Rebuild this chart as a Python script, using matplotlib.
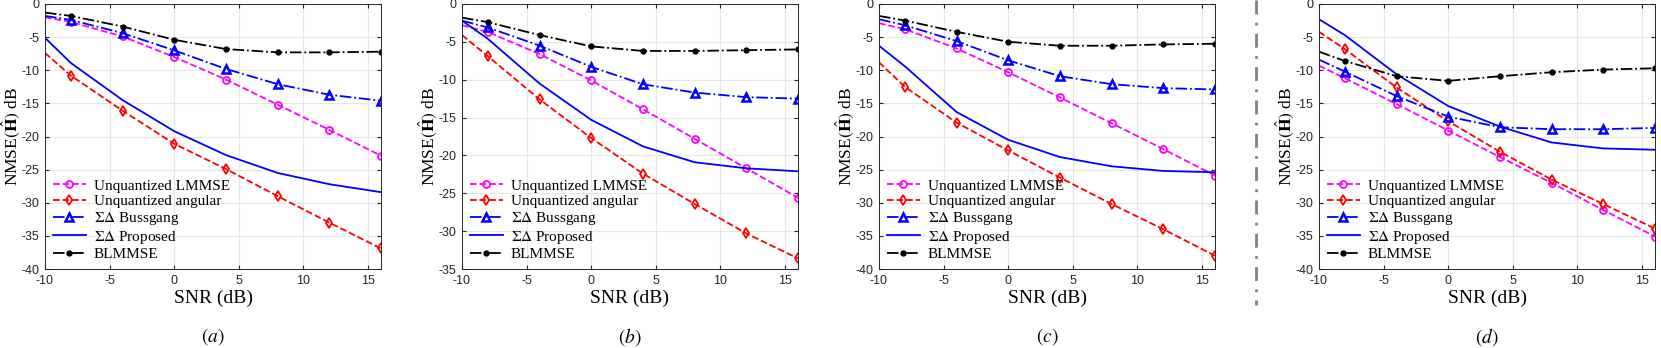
import matplotlib
matplotlib.use('Agg')
import matplotlib.pyplot as plt
from matplotlib.lines import Line2D

plt.rcParams['mathtext.fontset'] = 'stix'
plt.rcParams['axes.unicode_minus'] = False

snr = [-10, -8, -4, 0, 4, 8, 12, 16]

# panel (a)
a_lmmse = [-2.0, -2.7, -4.9, -8.0, -11.4, -15.2, -19.0, -22.9]
a_angular = [-7.4, -10.8, -16.1, -21.1, -24.9, -29.0, -33.0, -36.9]
a_bussgang = [-1.8, -2.4, -4.4, -7.0, -9.8, -12.1, -13.7, -14.6]
a_proposed = [-5.1, -8.9, -14.5, -19.2, -22.8, -25.5, -27.2, -28.4]
a_blmmse = [-1.3, -1.8, -3.4, -5.4, -6.8, -7.3, -7.3, -7.2]

# panel (b)
b_lmmse = [-2.8, -3.7, -6.6, -10.1, -13.9, -17.8, -21.7, -25.6]
b_angular = [-4.1, -6.9, -12.6, -17.7, -22.4, -26.4, -30.3, -33.6]
b_bussgang = [-2.2, -3.1, -5.5, -8.3, -10.6, -11.7, -12.3, -12.5]
b_proposed = [-2.2, -4.6, -10.5, -15.3, -18.8, -20.9, -21.7, -22.1]
b_blmmse = [-1.8, -2.4, -4.1, -5.6, -6.2, -6.2, -6.1, -6.0]

# panel (c)
c_lmmse = [-2.9, -3.8, -6.7, -10.3, -14.1, -18.0, -21.9, -25.9]
c_angular = [-8.8, -12.5, -17.9, -22.1, -26.2, -30.2, -34.0, -38.0]
c_bussgang = [-2.3, -3.2, -5.6, -8.5, -10.9, -12.1, -12.7, -12.9]
c_proposed = [-6.3, -9.4, -16.3, -20.5, -23.1, -24.5, -25.2, -25.4]
c_blmmse = [-1.8, -2.5, -4.2, -5.7, -6.3, -6.3, -6.1, -6.0]

# panel (d)
d_lmmse = [-9.3, -11.2, -15.1, -19.1, -23.1, -27.0, -31.1, -35.1]
d_angular = [-4.2, -6.8, -12.6, -17.7, -22.3, -26.5, -30.2, -33.9]
d_bussgang = [-8.4, -10.2, -13.9, -17.0, -18.6, -18.9, -18.9, -18.7]
d_proposed = [-2.3, -4.7, -10.6, -15.4, -18.5, -20.9, -21.8, -22.0]
d_blmmse = [-7.2, -8.6, -10.9, -11.6, -10.9, -10.3, -9.9, -9.7]

panels = [
    ('(a)', -40, a_lmmse, a_angular, a_bussgang, a_proposed, a_blmmse),
    ('(b)', -35, b_lmmse, b_angular, b_bussgang, b_proposed, b_blmmse),
    ('(c)', -40, c_lmmse, c_angular, c_bussgang, c_proposed, c_blmmse),
    ('(d)', -40, d_lmmse, d_angular, d_bussgang, d_proposed, d_blmmse),
]
lefts = [45, 462, 879, 1319]

W, H = 1661, 348
fig = plt.figure(figsize=(W / 100, H / 100), dpi=100)

serif = 'Liberation Serif'
mk = slice(1, None)

for (tag, ymin, lm, ang, bus, prop, bl), lx in zip(panels, lefts):
    ax = fig.add_axes([lx / W, 1 - 269 / H, 336 / W, 265 / H])
    ax.plot(snr, lm, color='magenta', ls='--', lw=1.3, marker='o', ms=5,
            mfc='none', mew=1.3, markevery=mk, label='Unquantized LMMSE')
    ax.plot(snr, ang, color='red', ls='--', lw=1.3, marker='d', ms=5.5,
            mfc='none', mew=1.3, markevery=mk, label='Unquantized angular')
    ax.plot(snr, bus, color='blue', ls='-.', lw=1.3, marker='^', ms=5.5,
            mfc='none', mew=1.8, markevery=mk, label=r'$\Sigma\Delta$ Bussgang')
    ax.plot(snr, prop, color='blue', ls='-', lw=1.3, label=r'$\Sigma\Delta$ Proposed')
    ax.plot(snr, bl, color='black', ls='-.', lw=1.3, marker='o', ms=3.5,
            markevery=mk, label='BLMMSE')

    ax.set_xlim(-10, 16)
    ax.set_ylim(ymin, 0)
    ax.set_xticks([-10, -5, 0, 5, 10, 15])
    ax.set_yticks(list(range(ymin, 1, 5)))
    ax.grid(True, color='#e6e6e6', lw=0.8)
    ax.set_axisbelow(True)
    ax.tick_params(direction='in', length=3, labelsize=9, colors='#262626',
                   top=True, right=True, pad=4)
    for lab in ax.get_xticklabels() + ax.get_yticklabels():
        lab.set_family('Liberation Sans')
    for s in ax.spines.values():
        s.set_color('#262626')
        s.set_linewidth(0.7)

    ax.set_xlabel('SNR (dB)', family=serif, fontsize=14, labelpad=2)
    ax.set_ylabel(r'NMSE$(\hat{\mathbf{H}})$ dB', family=serif, fontsize=12.5)
    ax.yaxis.set_label_coords(-0.067, 0.5)
    ax.text(0.5, -68 / 265, r'$' + tag + '$', transform=ax.transAxes,
            ha='center', va='center', fontsize=14)

    ax.legend(loc='lower left', frameon=False, prop={'family': serif, 'size': 11},
              handlelength=2.2, handletextpad=0.5, labelspacing=0.12,
              borderaxespad=0.3, borderpad=0.2)

# dash-dot separator between (c) and (d)
fig.add_artist(Line2D([1256 / W, 1256 / W], [1.0, 1 - 305 / H],
                      transform=fig.transFigure, color='#808080', lw=2,
                      ls=(0, (5, 3, 1, 3))))

fig.savefig('out.png', dpi=100)
